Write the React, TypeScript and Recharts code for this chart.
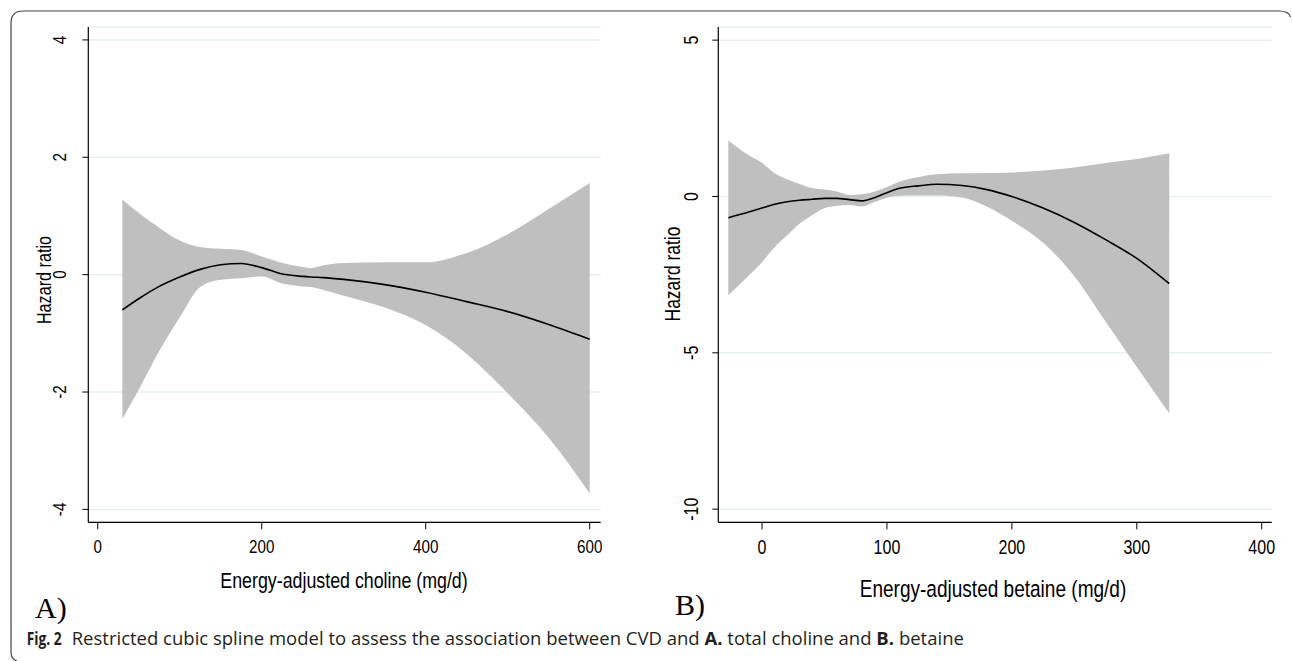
import React from 'react';
import { ComposedChart, Area, Line, XAxis, YAxis, CartesianGrid } from 'recharts';

// A) energy-adjusted choline (mg/d) vs hazard ratio
const cholineX = [30, 50, 75, 100, 125, 150, 175, 200, 225, 250, 260, 275, 300, 350, 400, 450, 500, 550, 600];
const cholineFit = [-0.6, -0.41, -0.2, -0.04, 0.09, 0.17, 0.19, 0.12, 0.01, -0.03, -0.04, -0.05, -0.08, -0.17, -0.3, -0.46, -0.63, -0.85, -1.1];
const cholineUpper = [1.28, 1.05, 0.8, 0.58, 0.47, 0.44, 0.42, 0.31, 0.2, 0.13, 0.11, 0.16, 0.2, 0.21, 0.21, 0.37, 0.69, 1.12, 1.56];
const cholineLower = [-2.46, -1.96, -1.3, -0.73, -0.21, -0.085, -0.06, -0.03, -0.15, -0.2, -0.21, -0.26, -0.36, -0.56, -0.86, -1.35, -2.02, -2.78, -3.73];
const cholineXTicks = [0, 200, 400, 600];
const cholineYTicks = [-4, -2, 0, 2, 4];

// B) energy-adjusted betaine (mg/d) vs hazard ratio
const betaineX = [-27, -10, 0, 10, 20, 30, 40, 50, 60, 70, 80, 90, 100, 110, 125, 140, 160, 180, 200, 225, 250, 275, 300, 326];
const betaineFit = [-0.68, -0.49, -0.37, -0.25, -0.17, -0.12, -0.09, -0.06, -0.06, -0.1, -0.14, -0.04, 0.12, 0.26, 0.34, 0.39, 0.35, 0.22, 0.0, -0.37, -0.83, -1.38, -1.98, -2.79];
const betaineUpper = [1.79, 1.3, 1.08, 0.75, 0.55, 0.4, 0.27, 0.22, 0.16, 0.05, 0.07, 0.15, 0.3, 0.47, 0.62, 0.71, 0.74, 0.75, 0.77, 0.83, 0.93, 1.07, 1.2, 1.38];
const betaineLower = [-3.16, -2.5, -2.1, -1.62, -1.25, -0.87, -0.6, -0.38, -0.3, -0.27, -0.32, -0.18, -0.04, 0.02, 0.03, 0.03, -0.03, -0.32, -0.78, -1.48, -2.55, -4.0, -5.45, -6.94];
const betaineXTicks = [0, 100, 200, 300, 400];
const betaineYTicks = [-10, -5, 0, 5];

const rows = (xs: number[], fit: number[], lo: number[], hi: number[]) =>
  xs.map((x, i) => ({ x, fit: fit[i], ci: [lo[i], hi[i]] }));

const FONT = "'Liberation Sans', Arial, Helvetica, sans-serif";
const NARROW = 0.8;

const makeXTick = (size: number, dy: number) => (p: any) => (
  <g transform={`translate(${p.x},${p.y + dy})`}>
    <text transform={`scale(${NARROW},1)`} textAnchor="middle" fontFamily={FONT} fontSize={size} fill="#000">
      {p.payload.value}
    </text>
  </g>
);

const makeYTick = (size: number, dx: number) => (p: any) => (
  <g transform={`translate(${p.x - dx},${p.y}) rotate(-90)`}>
    <text transform={`scale(${NARROW},1)`} textAnchor="middle" fontFamily={FONT} fontSize={size} fill="#000">
      {p.payload.value}
    </text>
  </g>
);

interface PanelProps {
  data: any[];
  left: number;
  width: number;
  margin: { top: number; right: number; bottom: number; left: number };
  xDomain: [number, number];
  yDomain: [number, number];
  xTicks: number[];
  yTicks: number[];
  tickSize: number;
  xTickDy: number;
  yTickDx: number;
}

// y axis band is 40px wide, x axis band 40px tall; margins place the plot area
const Panel: React.FC<PanelProps> = ({ data, left, width, margin, xDomain, yDomain, xTicks, yTicks, tickSize, xTickDy, yTickDx }) => (
  <div style={{ position: 'absolute', left, top: 0 }}>
    <ComposedChart width={width} height={661} data={data} margin={margin}>
      <CartesianGrid vertical={false} stroke="#e6eff1" strokeWidth={1.5} />
      <XAxis
        dataKey="x"
        type="number"
        domain={xDomain}
        ticks={xTicks}
        allowDataOverflow
        height={40}
        axisLine={{ stroke: '#000', strokeWidth: 1.2 }}
        tickLine={{ stroke: '#000', strokeWidth: 1 }}
        tickSize={7}
        tickMargin={2}
        tick={makeXTick(tickSize, xTickDy)}
        interval={0}
      />
      <YAxis
        type="number"
        domain={yDomain}
        ticks={yTicks}
        allowDataOverflow
        width={40}
        axisLine={{ stroke: '#000', strokeWidth: 1.2 }}
        tickLine={{ stroke: '#000', strokeWidth: 1 }}
        tickSize={6}
        tickMargin={2}
        tick={makeYTick(tickSize, yTickDx)}
        interval={0}
      />
      <Area dataKey="ci" type="monotone" fill="#bfbfbf" fillOpacity={1} stroke="none" isAnimationActive={false} />
      <Line dataKey="fit" type="monotone" stroke="#000" strokeWidth={1.6} dot={false} isAnimationActive={false} />
    </ComposedChart>
  </div>
);

const narrowText = (x: number, y: number, size: number, text: string, rotate = false) => (
  <g transform={`translate(${x},${y})${rotate ? ' rotate(-90)' : ''}`}>
    <text transform="scale(0.81,1)" textAnchor="middle" fontFamily={FONT} fontSize={size} fill="#000">
      {text}
    </text>
  </g>
);

export default function App() {
  return (
    <div style={{ position: 'absolute', left: 0, top: 0, width: 1292, height: 661, overflow: 'hidden', background: '#fff' }}>
      <Panel
        data={rows(cholineX, cholineFit, cholineLower, cholineUpper)}
        left={0}
        width={640}
        margin={{ top: 27, right: 39.3, bottom: 98.7, left: 48.3 }}
        xDomain={[-11.5, 613.4]}
        yDomain={[-4.22, 4.22]}
        xTicks={cholineXTicks}
        yTicks={cholineYTicks}
        tickSize={19}
        xTickDy={22}
        yTickDx={14}
      />
      <Panel
        data={rows(betaineX, betaineFit, betaineLower, betaineUpper)}
        left={640}
        width={652}
        margin={{ top: 27, right: 20.3, bottom: 98.7, left: 38.3 }}
        xDomain={[-35, 408]}
        yDomain={[-10.42, 5.42]}
        xTicks={betaineXTicks}
        yTicks={betaineYTicks}
        tickSize={20}
        xTickDy={23}
        yTickDx={12}
      />
      <svg width={1292} height={661} style={{ position: 'absolute', left: 0, top: 0, pointerEvents: 'none' }}>
        <path d="M 17 661 Q 11 659 11 652 L 11 23 Q 11 11 23 11 L 1279 11 Q 1289 11 1290.5 17" fill="none" stroke="#444" strokeWidth={1.2} />
        {narrowText(51, 280, 20, 'Hazard ratio', true)}
        {narrowText(680, 274, 21.5, 'Hazard ratio', true)}
        {narrowText(344, 588, 22, 'Energy-adjusted choline (mg/d)')}
        {narrowText(993, 597, 23.5, 'Energy-adjusted betaine (mg/d)')}
        <text x={35} y={618} fontFamily="'Liberation Serif', 'Times New Roman', serif" fontSize={30} fill="#000">A)</text>
        <text x={675} y={615} fontFamily="'Liberation Serif', 'Times New Roman', serif" fontSize={30} fill="#000">B)</text>
        <text x={26.7} y={645} fontFamily="'Open Sans', 'Noto Sans', sans-serif" fontSize={18.5} fill="#231f20">
          <tspan fontWeight="bold" textLength={35} lengthAdjust="spacingAndGlyphs">Fig. 2</tspan>
          <tspan x={71.7}>{'Restricted cubic spline model to assess the association between CVD and '}</tspan>
          <tspan fontWeight="bold">A.</tspan>
          <tspan>{' total choline and '}</tspan>
          <tspan fontWeight="bold">B.</tspan>
          <tspan>{' betaine'}</tspan>
        </text>
      </svg>
    </div>
  );
}
